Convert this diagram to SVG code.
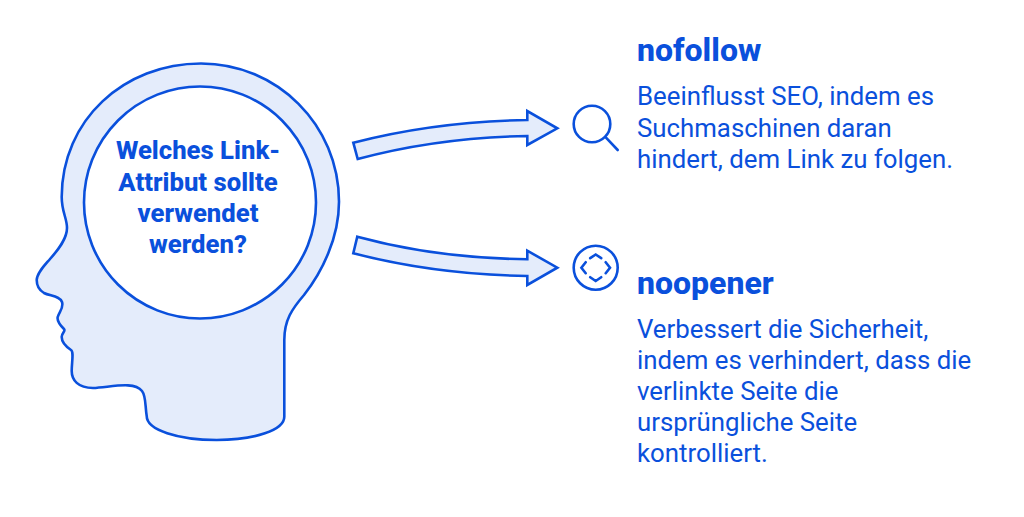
<svg xmlns="http://www.w3.org/2000/svg" width="1024" height="517" viewBox="0 0 1024 517">
<style>
.s{stroke:#0a50dc;stroke-width:2.6;stroke-linejoin:miter;stroke-linecap:round}
.f{fill:#e4ecfb}
.n{fill:none}
text{font-family:Roboto,"Liberation Sans",sans-serif;fill:#0a50dc}
.q{font-size:25.7px;font-weight:800;text-anchor:middle}
.h{font-size:32px;font-weight:800}
.b{font-size:25.8px}
</style>
<rect width="1024" height="517" fill="#fff"/>
<g id="head">
<path class="s f" d="M61.7 197C61.7 120 124 63.5 201 63.5C277 63.5 339 125 339 201.7C339 238 322 272 304 295C292 309 284.3 320 284.3 340L284.3 416.7C284.3 430 255 440 216.7 440C178 440 146.7 430 146.7 416C145 405 146 396 142 391C134 381 112 387 93 388C78 388 71.7 380 71.7 371C71.7 362 74 352 71 350C65 346 61.5 342 61.7 336.7C61.7 333 66 331 64 329C60 325 57 320 57.7 317C59 312 64 308 62 302C60 296 50 296 44 293C39 290 36.7 285 36.7 280C37 273 44 266 50 259C58 250 67 239 67 228C67 218 61.7 212 61.7 197Z"/>
<circle class="s" cx="200" cy="202.5" r="116" fill="#fff"/>
<text class="q" x="198" y="159">Welches Link-</text>
<text class="q" x="198" y="191">Attribut sollte</text>
<text class="q" x="198" y="222">verwendet</text>
<text class="q" x="198" y="253">werden?</text>
</g>
<g id="connectors">
<path class="s f" d="M353.3 142.7C410 128 465 121 527.3 120L527.3 111L557.3 128.3L527.3 145L527.3 136C465 137 410 145 357.7 159Z"/>
<path class="s f" d="M357.3 236.7C410 251 465 258.5 527.3 259.3L527.3 250.7L557.3 267.7L527.3 285L527.3 276C465 275 410 268 353.3 253.3Z"/>
</g>
<g id="icon-search">
<circle class="s n" cx="592" cy="124" r="18.3"/>
<path class="s n" d="M606 137.7L617.7 150"/>
</g>
<g id="icon-target">
<circle class="s n" cx="595.7" cy="267.7" r="22"/>
<path class="s n" d="M590.2 258.2L595.7 254.5L601.2 258.2M605.7 262.2L610 267.7L605.7 273.2M601.2 277.2L595.7 281L590.2 277.2M585.7 273.2L581.4 267.7L585.7 262.2"/>
</g>
<g id="nofollow">
<text class="h" x="637" y="61">nofollow</text>
<text class="b" x="637" y="105">Beeinflusst SEO, indem es</text>
<text class="b" x="637" y="137">Suchmaschinen daran</text>
<text class="b" x="637" y="168">hindert, dem Link zu folgen.</text>
</g>
<g id="noopener">
<text class="h" x="637" y="294">noopener</text>
<text class="b" x="637" y="338">Verbessert die Sicherheit,</text>
<text class="b" x="637" y="369">indem es verhindert, dass die</text>
<text class="b" x="637" y="400">verlinkte Seite die</text>
<text class="b" x="637" y="431">ursprüngliche Seite</text>
<text class="b" x="637" y="462">kontrolliert.</text>
</g>
</svg>
